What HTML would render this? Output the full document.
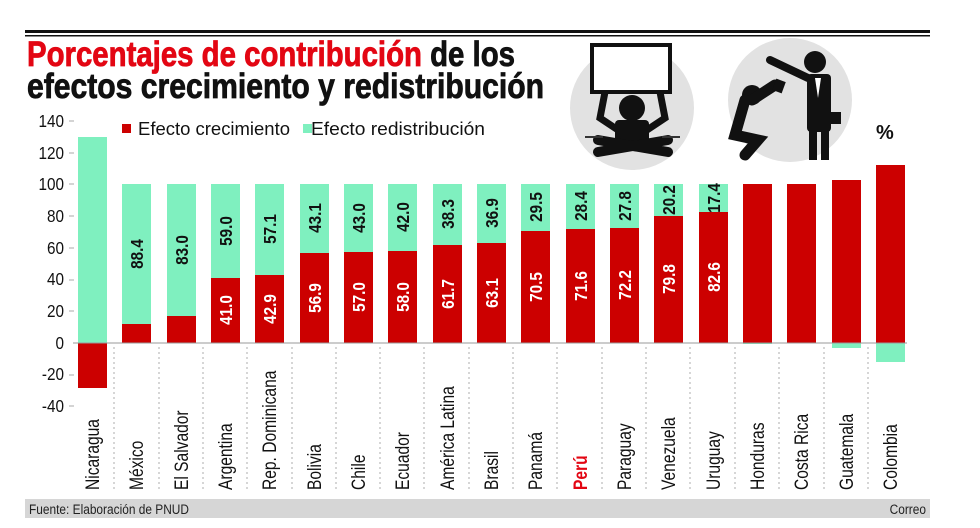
<!DOCTYPE html>
<html><head><meta charset="utf-8"><style>
html,body{margin:0;padding:0;background:#fff;}
svg{display:block;}
text{font-family:"Liberation Sans Narrow","Liberation Sans",sans-serif;}
</style></head><body>
<svg width="980" height="528" viewBox="0 0 980 528" xmlns="http://www.w3.org/2000/svg">
<rect x="25" y="30" width="905" height="3" fill="#111"/>
<rect x="25" y="35" width="905" height="1.5" fill="#111"/>
<text x="27" y="66" font-size="35" font-weight="bold" fill="#e30613" stroke="#e30613" stroke-width="0.8" textLength="488" lengthAdjust="spacingAndGlyphs">Porcentajes de contribución<tspan fill="#111" stroke="#111"> de los</tspan></text>
<text x="27" y="98" font-size="35" font-weight="bold" fill="#111" stroke="#111" stroke-width="0.8" textLength="517" lengthAdjust="spacingAndGlyphs">efectos crecimiento y redistribución</text>
<!-- pictograms -->
<circle cx="632" cy="108" r="62" fill="#e2e2e2"/>
<rect x="592" y="45" width="78" height="47" fill="#fff" stroke="#111" stroke-width="4"/>
<path d="M605 92 L600 118 L618 130 M660 92 L665 118 L647 130" stroke="#111" stroke-width="7" fill="none"/>
<circle cx="632" cy="108" r="13" fill="#111"/>
<rect x="615" y="120" width="34" height="28" rx="4" fill="#111"/>
<path d="M598 152 L668 140 M598 140 L668 152" stroke="#111" stroke-width="10" stroke-linecap="round"/>
<rect x="585" y="136" width="18" height="2" fill="#333"/><rect x="662" y="136" width="18" height="2" fill="#333"/>
<circle cx="790" cy="100" r="62" fill="#e2e2e2"/>
<circle cx="815" cy="62" r="11" fill="#111"/>
<path d="M770 60 L808 78" stroke="#111" stroke-width="8" stroke-linecap="round"/>
<rect x="807" y="74" width="24" height="58" rx="4" fill="#111"/>
<rect x="809" y="128" width="8" height="32" fill="#111"/><rect x="821" y="128" width="8" height="32" fill="#111"/>
<path d="M815 78 L818 98 L821 78Z" fill="#fff"/>
<rect x="831" y="112" width="10" height="12" fill="#111"/>
<circle cx="752" cy="95" r="10" fill="#111"/>
<path d="M745 100 L735 135 L758 140 L745 155 M752 100 L775 85" stroke="#111" stroke-width="11" fill="none" stroke-linecap="round"/>
<rect x="774" y="80" width="10" height="12" fill="#111" transform="rotate(20 779 86)"/>
<text x="876" y="139" font-size="20" font-weight="bold" fill="#111">%</text>
<!-- axis labels -->
<g font-size="18" fill="#111" text-anchor="end">
<text transform="translate(64,127) scale(0.85,1)">140</text><text transform="translate(64,159) scale(0.85,1)">120</text><text transform="translate(64,190) scale(0.85,1)">100</text>
<text transform="translate(64,222) scale(0.85,1)">80</text><text transform="translate(64,254) scale(0.85,1)">60</text><text transform="translate(64,285) scale(0.85,1)">40</text>
<text transform="translate(64,317) scale(0.85,1)">20</text><text transform="translate(64,349) scale(0.85,1)">0</text><text transform="translate(64,380) scale(0.85,1)">-20</text><text transform="translate(64,412) scale(0.85,1)">-40</text>
</g>
<g stroke="#aaa" stroke-width="1">
<line x1="69" y1="121" x2="74" y2="121"/><line x1="69" y1="153" x2="74" y2="153"/><line x1="69" y1="184" x2="74" y2="184"/><line x1="69" y1="216" x2="74" y2="216"/><line x1="69" y1="248" x2="74" y2="248"/><line x1="69" y1="280" x2="74" y2="280"/><line x1="69" y1="311" x2="74" y2="311"/><line x1="69" y1="375" x2="74" y2="375"/><line x1="69" y1="406" x2="74" y2="406"/>
</g>
<!-- legend -->
<rect x="122" y="124" width="9" height="9" fill="#cc0000"/>
<text x="138" y="135" font-size="18" fill="#111" textLength="152" lengthAdjust="spacingAndGlyphs">Efecto crecimiento</text>
<rect x="303" y="124" width="9" height="9" fill="#7ff0bf"/>
<text x="311" y="135" font-size="18" fill="#111" textLength="174" lengthAdjust="spacingAndGlyphs">Efecto redistribución</text>
<!-- separators -->
<g stroke="#bbb" stroke-width="1.2" stroke-dasharray="2,3">
<line x1="114" y1="347" x2="114" y2="490"/><line x1="159" y1="347" x2="159" y2="490"/><line x1="203" y1="347" x2="203" y2="490"/><line x1="247" y1="347" x2="247" y2="490"/><line x1="292" y1="347" x2="292" y2="490"/><line x1="336" y1="347" x2="336" y2="490"/><line x1="380" y1="347" x2="380" y2="490"/><line x1="424" y1="347" x2="424" y2="490"/><line x1="469" y1="347" x2="469" y2="490"/><line x1="513" y1="347" x2="513" y2="490"/><line x1="557" y1="347" x2="557" y2="490"/><line x1="602" y1="347" x2="602" y2="490"/><line x1="646" y1="347" x2="646" y2="490"/><line x1="690" y1="347" x2="690" y2="490"/><line x1="735" y1="347" x2="735" y2="490"/><line x1="779" y1="347" x2="779" y2="490"/><line x1="824" y1="347" x2="824" y2="490"/><line x1="868" y1="347" x2="868" y2="490"/>
</g>
<g>
<rect x="78" y="137" width="29" height="206" fill="#7ff0bf"/><rect x="78" y="343" width="29" height="45" fill="#cc0000"/>
<rect x="122" y="184" width="29" height="140" fill="#7ff0bf"/><rect x="122" y="324" width="29" height="19" fill="#cc0000"/>
<rect x="167" y="184" width="29" height="132" fill="#7ff0bf"/><rect x="167" y="316" width="29" height="27" fill="#cc0000"/>
<rect x="211" y="184" width="29" height="94" fill="#7ff0bf"/><rect x="211" y="278" width="29" height="65" fill="#cc0000"/>
<rect x="255" y="184" width="29" height="91" fill="#7ff0bf"/><rect x="255" y="275" width="29" height="68" fill="#cc0000"/>
<rect x="300" y="184" width="29" height="69" fill="#7ff0bf"/><rect x="300" y="253" width="29" height="90" fill="#cc0000"/>
<rect x="344" y="184" width="29" height="68" fill="#7ff0bf"/><rect x="344" y="252" width="29" height="91" fill="#cc0000"/>
<rect x="388" y="184" width="29" height="67" fill="#7ff0bf"/><rect x="388" y="251" width="29" height="92" fill="#cc0000"/>
<rect x="433" y="184" width="29" height="61" fill="#7ff0bf"/><rect x="433" y="245" width="29" height="98" fill="#cc0000"/>
<rect x="477" y="184" width="29" height="59" fill="#7ff0bf"/><rect x="477" y="243" width="29" height="100" fill="#cc0000"/>
<rect x="521" y="184" width="29" height="47" fill="#7ff0bf"/><rect x="521" y="231" width="29" height="112" fill="#cc0000"/>
<rect x="566" y="184" width="29" height="45" fill="#7ff0bf"/><rect x="566" y="229" width="29" height="114" fill="#cc0000"/>
<rect x="610" y="184" width="29" height="44" fill="#7ff0bf"/><rect x="610" y="228" width="29" height="115" fill="#cc0000"/>
<rect x="654" y="184" width="29" height="32" fill="#7ff0bf"/><rect x="654" y="216" width="29" height="127" fill="#cc0000"/>
<rect x="699" y="184" width="29" height="28" fill="#7ff0bf"/><rect x="699" y="212" width="29" height="131" fill="#cc0000"/>
<rect x="743" y="184" width="29" height="159" fill="#cc0000"/><rect x="743" y="343" width="29" height="1" fill="#7ff0bf"/>
<rect x="787" y="184" width="29" height="159" fill="#cc0000"/>
<rect x="832" y="180" width="29" height="163" fill="#cc0000"/><rect x="832" y="343" width="29" height="5" fill="#7ff0bf"/>
<rect x="876" y="165" width="29" height="178" fill="#cc0000"/><rect x="876" y="343" width="29" height="19" fill="#7ff0bf"/>
</g>
<line x1="73" y1="343" x2="907" y2="343" stroke="#999" stroke-width="1"/>
<!-- value labels -->
<g font-size="18" font-weight="bold" text-anchor="middle">
<g fill="#111">
<text transform="translate(143,254) rotate(-90) scale(0.85,1)">88.4</text>
<text transform="translate(188,250) rotate(-90) scale(0.85,1)">83.0</text>
<text transform="translate(232,231) rotate(-90) scale(0.85,1)">59.0</text>
<text transform="translate(276,229) rotate(-90) scale(0.85,1)">57.1</text>
<text transform="translate(321,218) rotate(-90) scale(0.85,1)">43.1</text>
<text transform="translate(365,218) rotate(-90) scale(0.85,1)">43.0</text>
<text transform="translate(409,217) rotate(-90) scale(0.85,1)">42.0</text>
<text transform="translate(454,214) rotate(-90) scale(0.85,1)">38.3</text>
<text transform="translate(498,213) rotate(-90) scale(0.85,1)">36.9</text>
<text transform="translate(542,207) rotate(-90) scale(0.85,1)">29.5</text>
<text transform="translate(587,206) rotate(-90) scale(0.85,1)">28.4</text>
<text transform="translate(631,206) rotate(-90) scale(0.85,1)">27.8</text>
<text transform="translate(675,200) rotate(-90) scale(0.85,1)">20.2</text>
<text transform="translate(720,198) rotate(-90) scale(0.85,1)">17.4</text>
</g>
<g fill="#fff">
<text transform="translate(232,310) rotate(-90) scale(0.85,1)">41.0</text>
<text transform="translate(276,309) rotate(-90) scale(0.85,1)">42.9</text>
<text transform="translate(321,298) rotate(-90) scale(0.85,1)">56.9</text>
<text transform="translate(365,297) rotate(-90) scale(0.85,1)">57.0</text>
<text transform="translate(409,297) rotate(-90) scale(0.85,1)">58.0</text>
<text transform="translate(454,294) rotate(-90) scale(0.85,1)">61.7</text>
<text transform="translate(498,293) rotate(-90) scale(0.85,1)">63.1</text>
<text transform="translate(542,287) rotate(-90) scale(0.85,1)">70.5</text>
<text transform="translate(587,286) rotate(-90) scale(0.85,1)">71.6</text>
<text transform="translate(631,285) rotate(-90) scale(0.85,1)">72.2</text>
<text transform="translate(675,279) rotate(-90) scale(0.85,1)">79.8</text>
<text transform="translate(720,277) rotate(-90) scale(0.85,1)">82.6</text>
</g>
</g>
<!-- country labels -->
<g font-size="19" fill="#111">
<text transform="translate(99,490) rotate(-90) scale(0.82,1)">Nicaragua</text>
<text transform="translate(143,490) rotate(-90) scale(0.82,1)">México</text>
<text transform="translate(188,490) rotate(-90) scale(0.82,1)">El Salvador</text>
<text transform="translate(232,490) rotate(-90) scale(0.82,1)">Argentina</text>
<text transform="translate(276,490) rotate(-90) scale(0.82,1)">Rep. Dominicana</text>
<text transform="translate(321,490) rotate(-90) scale(0.82,1)">Bolivia</text>
<text transform="translate(365,490) rotate(-90) scale(0.82,1)">Chile</text>
<text transform="translate(409,490) rotate(-90) scale(0.82,1)">Ecuador</text>
<text transform="translate(454,490) rotate(-90) scale(0.82,1)">América Latina</text>
<text transform="translate(498,490) rotate(-90) scale(0.82,1)">Brasil</text>
<text transform="translate(542,490) rotate(-90) scale(0.82,1)">Panamá</text>
<text transform="translate(587,490) rotate(-90) scale(0.82,1)" fill="#e30613" font-weight="bold">Perú</text>
<text transform="translate(631,490) rotate(-90) scale(0.82,1)">Paraguay</text>
<text transform="translate(675,490) rotate(-90) scale(0.82,1)">Venezuela</text>
<text transform="translate(720,490) rotate(-90) scale(0.82,1)">Uruguay</text>
<text transform="translate(764,490) rotate(-90) scale(0.82,1)">Honduras</text>
<text transform="translate(808,490) rotate(-90) scale(0.82,1)">Costa Rica</text>
<text transform="translate(853,490) rotate(-90) scale(0.82,1)">Guatemala</text>
<text transform="translate(897,490) rotate(-90) scale(0.82,1)">Colombia</text>
</g>
<!-- footer -->
<rect x="25" y="499" width="905" height="19" fill="#d6d6d6"/>
<text transform="translate(29,514) scale(0.85,1)" font-size="14" fill="#222">Fuente: Elaboración de PNUD</text>
<text transform="translate(926,514) scale(0.85,1)" font-size="14" fill="#222" text-anchor="end">Correo</text>
</svg>
</body></html>
